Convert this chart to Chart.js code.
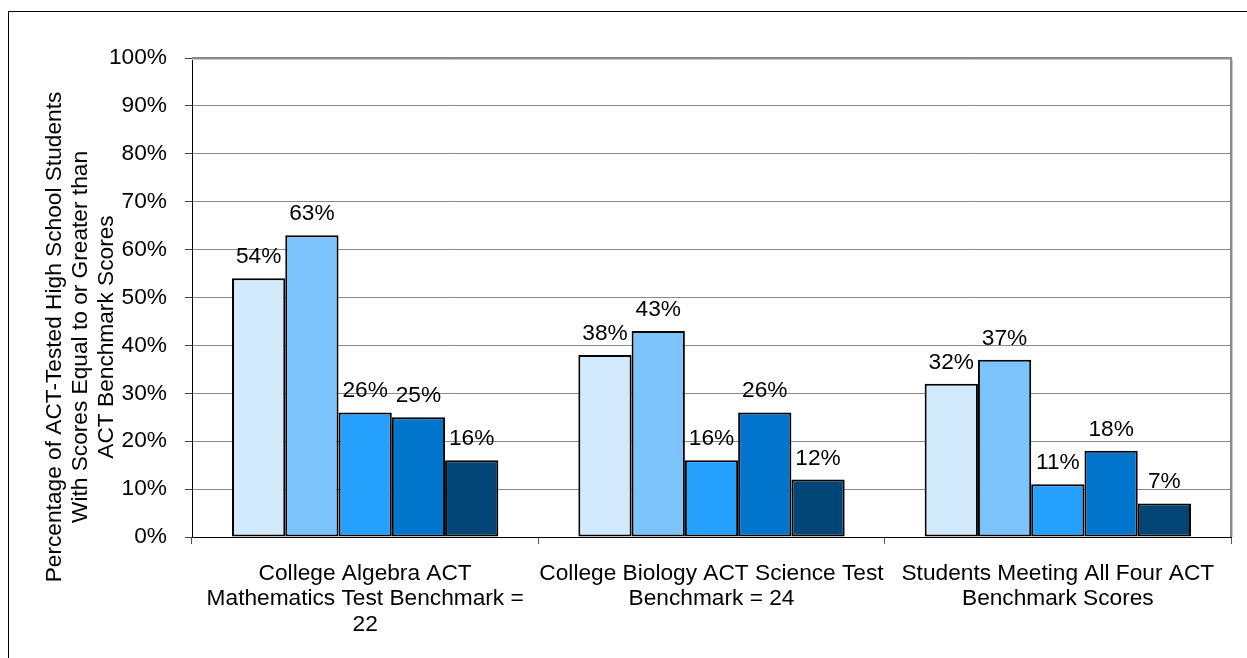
<!DOCTYPE html>
<html>
<head>
<meta charset="utf-8">
<script src="https://cdn.jsdelivr.net/npm/chart.js@4.4.0/dist/chart.umd.min.js"></script>
<style>
  html, body { margin: 0; padding: 0; background: #ffffff; }
  #wrap { width: 1247px; height: 658px; position: relative; }
</style>
</head>
<body>
<div id="wrap"><canvas id="c" width="1247" height="658"></canvas></div>
<script>
// ---- Data ----
const categories = [
  ["College Algebra ACT", "Mathematics Test Benchmark =", "22"],
  ["College Biology ACT Science Test", "Benchmark = 24"],
  ["Students Meeting All Four ACT", "Benchmark Scores"]
];
const seriesNames = ["Group 1", "Group 2", "Group 3", "Group 4", "Group 5"];
const series1 = [54, 38, 32];
const series2 = [63, 43, 37];
const series3 = [26, 16, 11];
const series4 = [25, 26, 18];
const series5 = [16, 12, 7];
const yTickValues = [0, 10, 20, 30, 40, 50, 60, 70, 80, 90, 100];
const yTitleLines = [
  "Percentage of ACT-Tested High School Students",
  "With Scores Equal to or Greater than",
  "ACT Benchmark Scores"
];

// ---- Styles ----
const FONT = '"Liberation Sans", Arial, Helvetica, sans-serif';
const FS = 22.7;
const colors = ["#D3EAFD", "#7DC4FD", "#25A1FD", "#0275CD", "#024678"];
const allSeries = [series1, series2, series3, series4, series5];

const datasets = allSeries.map((vals, i) => ({
  label: seriesNames[i],
  data: vals,
  backgroundColor: colors[i],
  borderColor: "#000000",
  borderWidth: 2,
  borderSkipped: false,
  categoryPercentage: 0.769,
  barPercentage: 1.0
}));

const decorPlugin = {
  id: "decor",
  afterDatasetsDraw(chart) {
    const ctx = chart.ctx;
    ctx.save();
    ctx.font = FS + "px " + FONT;
    ctx.fillStyle = "#000000";
    ctx.textAlign = "center";
    ctx.textBaseline = "alphabetic";
    chart.data.datasets.forEach((ds, di) => {
      const meta = chart.getDatasetMeta(di);
      meta.data.forEach((bar, i) => {
        ctx.fillText(ds.data[i] + "%", bar.x, bar.y - 15);
      });
    });
    ctx.restore();
  },
  afterDraw(chart) {
    const ctx = chart.ctx;
    const a = chart.chartArea;
    ctx.save();
    // plot frame (top and right), grey with light shadow
    ctx.strokeStyle = "#c9c9c9";
    ctx.lineWidth = 1;
    ctx.beginPath();
    ctx.moveTo(a.left, a.top + 1.5);
    ctx.lineTo(a.right + 1.5, a.top + 1.5);
    ctx.lineTo(a.right + 1.5, a.bottom);
    ctx.stroke();
    ctx.strokeStyle = "#8a8a8a";
    ctx.lineWidth = 2;
    ctx.beginPath();
    ctx.moveTo(a.left, a.top);
    ctx.lineTo(a.right, a.top);
    ctx.lineTo(a.right, a.bottom);
    ctx.stroke();

    // y axis title (three rotated lines)
    ctx.fillStyle = "#000000";
    ctx.font = FS + "px " + FONT;
    ctx.textAlign = "center";
    ctx.textBaseline = "middle";
    const xs = [55, 81, 107];
    yTitleLines.forEach((t, i) => {
      ctx.save();
      ctx.translate(xs[i], 337);
      ctx.rotate(-Math.PI / 2);
      ctx.fillText(t, 0, 0);
      ctx.restore();
    });

    // outer chart border
    ctx.strokeStyle = "#000000";
    ctx.lineWidth = 1;
    ctx.strokeRect(8.5, 11.5, 2000, 2000);
    ctx.restore();
  }
};

new Chart(document.getElementById("c"), {
  type: "bar",
  data: { labels: categories, datasets },
  options: {
    responsive: false,
    devicePixelRatio: 1,
    animation: false,
    layout: { padding: { left: 0, top: 58, right: 16, bottom: 0 } },
    plugins: {
      legend: { display: false },
      tooltip: { enabled: false }
    },
    scales: {
      x: {
        grid: {
          display: true,
          drawOnChartArea: false,
          drawTicks: true,
          tickLength: 7,
          tickColor: "#555555",
          offset: true
        },
        border: { display: true, color: "#000000", width: 1 },
        ticks: {
          color: "#000000",
          font: { family: FONT, size: FS, lineHeight: 1.115 },
          padding: 17,
          maxRotation: 0,
          autoSkip: false
        },
        afterFit(scale) { scale.height = 121; }
      },
      y: {
        min: 0,
        max: 100,
        afterBuildTicks(scale) {
          scale.ticks = yTickValues.map(v => ({ value: v }));
        },
        grid: {
          color: "#8a8a8a",
          lineWidth: 1,
          tickLength: 7,
          tickColor: "#444444"
        },
        border: { display: true, color: "#000000", width: 1 },
        ticks: {
          color: "#000000",
          font: { family: FONT, size: FS },
          padding: 18,
          callback: v => v + "%"
        },
        afterFit(scale) { scale.width = 192; }
      }
    }
  },
  plugins: [decorPlugin]
});
</script>
</body>
</html>
